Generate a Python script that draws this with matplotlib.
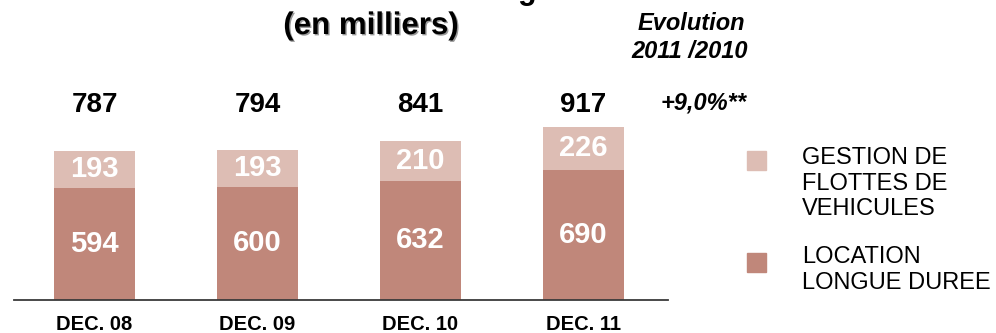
import matplotlib
matplotlib.use('Agg')
import matplotlib.pyplot as plt
import matplotlib.patheffects as pe
from matplotlib.patches import Rectangle
from matplotlib.transforms import blended_transform_factory

plt.rcParams['font.family'] = ['Liberation Sans', 'DejaVu Sans']

categories = ['DEC. 08', 'DEC. 09', 'DEC. 10', 'DEC. 11']
lld = [594, 600, 632, 690]        # location longue duree
gestion = [193, 193, 210, 226]    # gestion de flottes
totals = [787, 794, 841, 917]
series_names = ['GESTION DE\nFLOTTES DE\nVEHICULES', 'LOCATION\nLONGUE DUREE']
colors = ['#ddbdb4', '#c0877a']
evolution = '+9,0%**'

W, H = 996, 333
fig = plt.figure(figsize=(W / 100, H / 100), dpi=100)

def fx(px):
    return px / W

def fy(py):
    return 1 - py / H

# axes: baseline at y=300 px, 0.189 px per unit
top_px = 10
ax = fig.add_axes([fx(14), fy(300), fx(668) - fx(14), fy(top_px) - fy(300)])
ax.set_xlim(-0.494, 3.518)
ax.set_ylim(0, (300 - top_px) / 0.189)

x = range(len(categories))
ax.bar(x, lld, width=0.497, color=colors[1])
ax.bar(x, gestion, width=0.497, bottom=lld, color=colors[0])

for i in x:
    ax.text(i, lld[i] / 2, str(lld[i]), ha='center', va='center',
            color='white', fontsize=21, fontweight='bold')
    ax.text(i, lld[i] + gestion[i] / 2, str(gestion[i]), ha='center', va='center',
            color='white', fontsize=21, fontweight='bold')

for s in ['top', 'left', 'right']:
    ax.spines[s].set_visible(False)
ax.spines['bottom'].set_color('#3a3a3a')
ax.spines['bottom'].set_linewidth(1.3)
ax.set_yticks([])
ax.set_xticks(list(x))
ax.set_xticklabels(categories, fontsize=14.5, fontweight='bold')
ax.tick_params(axis='x', length=0, pad=11)

# totals above the bars, all on one line
tr = blended_transform_factory(ax.transData, fig.transFigure)
for i in x:
    ax.text(i, fy(105), str(totals[i]), ha='center', va='center', fontsize=20,
            fontweight='bold', transform=tr)

# title (first line cut off by the frame)
fig.text(fx(537), fy(-1), 'Flotte totale Leasing', ha='right', va='baseline',
         fontsize=22, fontweight='bold')
fig.text(fx(371), fy(26), '(en milliers)', ha='center', va='center',
         fontsize=22.5, fontweight='bold',
         path_effects=[pe.withSimplePatchShadow(offset=(1, -1), alpha=0.4)])

fig.text(fx(691), fy(23), 'Evolution', ha='center', va='center',
         fontsize=17, fontweight='bold', style='italic')
fig.text(fx(690), fy(52), '2011 /2010', ha='center', va='center',
         fontsize=17, fontweight='bold', style='italic')
fig.text(fx(704), fy(103), evolution, ha='center', va='center',
         fontsize=17, fontweight='bold', style='italic')

# legend drawn by hand
for name, c, ysq, ytxt in zip(series_names, colors, [151, 253], [147, 246]):
    fig.add_artist(Rectangle((fx(747), fy(ysq + 19)), fx(19), 19 / H,
                             transform=fig.transFigure, color=c))
    fig.text(fx(802), fy(ytxt), name, ha='left', va='top', fontsize=17,
             linespacing=1.22)

fig.savefig('out.png', dpi=100)
